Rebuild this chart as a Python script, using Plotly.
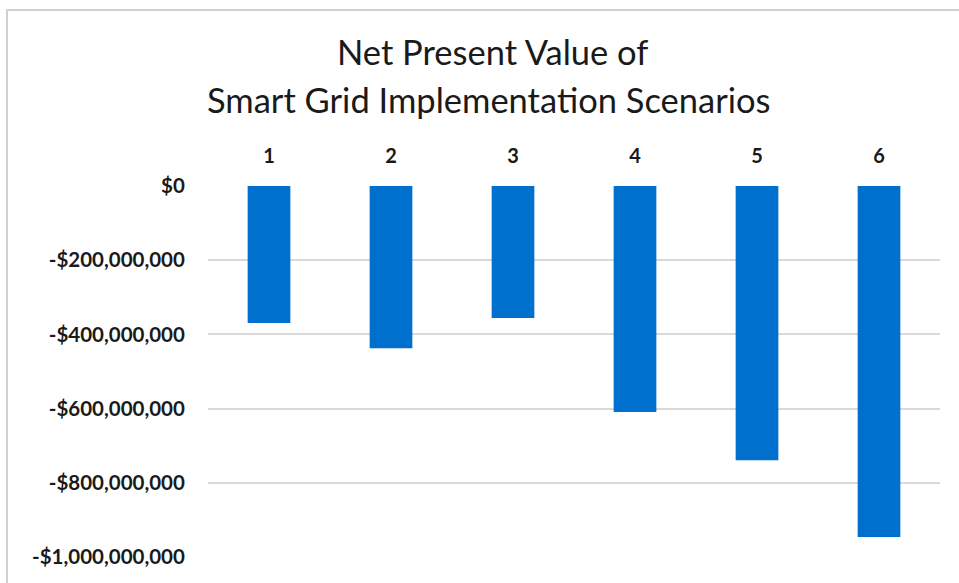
import plotly.graph_objects as go

scenarios = ["1", "2", "3", "4", "5", "6"]
npv = [-369e6, -437e6, -356e6, -609e6, -739e6, -946e6]
y_ticks = [0, -200e6, -400e6, -600e6, -800e6, -1000e6]
y_tick_labels = ["$0", "-$200,000,000", "-$400,000,000", "-$600,000,000",
                 "-$800,000,000", "-$1,000,000,000"]

W, H = 959, 583
L, R, T, B = 208, 940, 186, 557

fig = go.Figure(go.Bar(x=scenarios, y=npv, marker_color="#0070CE",
                       width=0.35, marker_line_width=0))

def px(x):
    return (x - L) / (R - L)

def py(y):
    return (B - y) / (B - T)

fig.update_layout(
    width=W, height=H,
    margin=dict(l=L, r=W - R, t=T, b=H - B),
    paper_bgcolor="white", plot_bgcolor="white",
    showlegend=False,
    font=dict(family="Lato", color="#1a1a1a"),
    xaxis=dict(side="top", type="category", showgrid=False, zeroline=False,
               showline=False, ticks="outside", ticklen=14,
               tickcolor="rgba(0,0,0,0)",
               tickfont=dict(size=20, family="Lato", weight="bold")),
    yaxis=dict(range=[-1000e6, 0], tickvals=y_ticks, ticktext=y_tick_labels,
               showgrid=True, gridcolor="#d9d9d9", gridwidth=2,
               zeroline=False, showline=False, ticks="outside", ticklen=18,
               tickcolor="rgba(0,0,0,0)",
               tickfont=dict(size=20.5, family="Lato", weight="bold")),
    annotations=[
        dict(text="Net Present Value of", x=px(492), y=py(51), xref="paper",
             yref="paper", showarrow=False, xanchor="center", yanchor="middle",
             font=dict(size=34.5, family="Lato", color="#1a1a1a")),
        dict(text="Smart Grid Implementation Scenarios", x=px(489), y=py(100),
             xref="paper", yref="paper", showarrow=False, xanchor="center",
             yanchor="middle",
             font=dict(size=34.5, family="Lato", color="#1a1a1a")),
    ],
    shapes=[
        dict(type="line", xref="paper", yref="paper", x0=px(6), x1=px(959),
             y0=py(10), y1=py(10), line=dict(color="#d0d0d0", width=2)),
        dict(type="line", xref="paper", yref="paper", x0=px(7), x1=px(7),
             y0=py(10), y1=py(583), line=dict(color="#d0d0d0", width=2)),
    ],
)

fig.write_html("out.html", config={"displayModeBar": False},
               post_script="document.body.style.margin='0';document.body.style.overflow='hidden';")
